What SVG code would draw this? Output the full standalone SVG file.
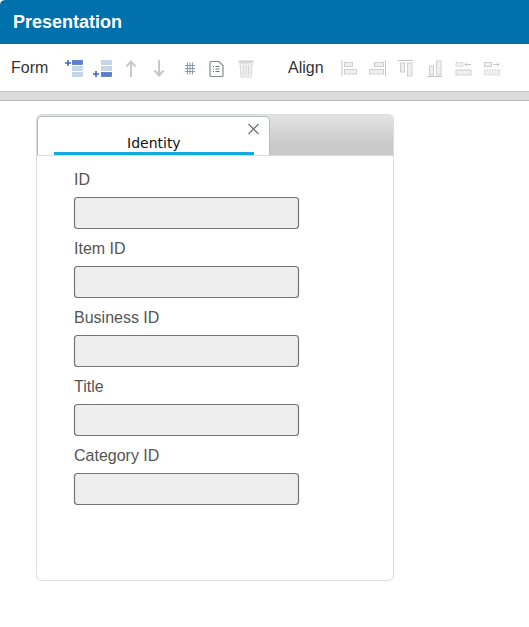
<svg xmlns="http://www.w3.org/2000/svg" width="529" height="627" viewBox="0 0 529 627">
<defs>
<linearGradient id="tabbar" x1="0" y1="0" x2="0" y2="1"><stop offset="0" stop-color="#e4e4e4"/><stop offset="0.75" stop-color="#c9c9c9"/><stop offset="1" stop-color="#c9c9c9"/></linearGradient>
</defs>
<style>
text{font-family:"Liberation Sans",Arial,sans-serif}
.lbl{font-size:16px;fill:#555}
.tb{font-size:16px;fill:#333}
.fld{fill:#eee;stroke:#757575;stroke-width:1.2}
.r1{fill:#5b7fd0;stroke:#3a5fc0;stroke-width:.6}
.r2{fill:#c6d6e8;stroke:#b0c6dc;stroke-width:.6}
.plus{stroke:#3a66c8;stroke-width:1.6;fill:none}
.arr{stroke:#c8c8c8;stroke-width:2;fill:none}
.al{fill:#efefef;stroke:#d0d0d0;stroke-width:1}
.aline{stroke:#c4c4c4;stroke-width:1;fill:none}
</style>
<rect width="529" height="627" fill="#fff"/>
<g id="header">
<path d="M0 44V5Q0 0 6 0H529V44Z" fill="#0071ad"/>
<text x="13" y="28" font-size="18" font-weight="700" fill="#fff">Presentation</text>
</g>
<g id="toolbar">
<text class="tb" x="11" y="73">Form</text>
<g id="icon-add-above">
<path class="plus" d="M65 63h6M68 60v6"/>
<rect class="r1" x="72.500" y="60.500" width="10" height="4"/>
<rect class="r2" x="72.500" y="66.500" width="10" height="4"/>
<rect class="r2" x="72.500" y="72.500" width="10" height="4"/>
</g>
<g id="icon-add-below">
<path class="plus" d="M93 74h6M96 71v6"/>
<rect class="r2" x="101.500" y="60.500" width="10" height="4"/>
<rect class="r2" x="101.500" y="66.500" width="10" height="4"/>
<rect class="r1" x="101.500" y="72.500" width="10" height="4"/>
</g>
<g id="icon-up"><path class="arr" d="M131 77V62M126.500 66.500L131 61.500L135.500 66.500"/></g>
<g id="icon-down"><path class="arr" d="M159 60V75M154.500 70.500L159 75.500L163.500 70.500"/></g>
<g id="icon-grid"><path d="M185 65.500h10M185 68.500h10M185 71.500h10M187.500 62.500v12M190 62.500v12M192.500 62.500v12" stroke="#8d9aa8" stroke-width="1" fill="none"/></g>
<g id="icon-doc">
<path d="M211 61.500h8l4 4v10q0 1-1 1h-11q-1 0-1-1v-13q0-1 1-1Z" fill="#fff" stroke="#85898f" stroke-width="1.200"/>
<path d="M213 66.500h1M213 69h1M213 71.500h1M215.500 66.500h4M215.500 69h4M215.500 71.500h4" stroke="#707780" stroke-width="1"/>
</g>
<g id="icon-trash">
<path d="M240 63h12l-1 14h-10Z" fill="#f0f0f0" stroke="#d8d8d8"/>
<path d="M238.500 61.500h15" stroke="#cfcfcf" stroke-width="2"/>
<path d="M243.500 65v10M246 65v10M248.500 65v10" stroke="#d8d8d8"/>
</g>
<text class="tb" x="288" y="73">Align</text>
<g id="icon-align-left"><path class="aline" d="M342 60.500V76.500"/><rect class="al" x="344.500" y="62.500" width="8" height="4"/><rect class="al" x="344.500" y="69.500" width="12" height="4.500"/></g>
<g id="icon-align-right"><path class="aline" d="M385.500 60.500V76.500"/><rect class="al" x="374.500" y="62.500" width="9" height="4"/><rect class="al" x="369.500" y="69.500" width="14" height="4.500"/></g>
<g id="icon-align-top"><path class="aline" d="M398 60.500H413"/><rect class="al" x="400.500" y="63" width="4" height="9"/><rect class="al" x="407.500" y="63" width="4.500" height="13"/></g>
<g id="icon-align-bottom"><path class="aline" d="M427 76.500H442"/><rect class="al" x="429.500" y="66" width="4" height="9"/><rect class="al" x="436.500" y="61" width="4.500" height="14"/></g>
<g id="icon-move-left"><rect class="al" x="456" y="62.500" width="7" height="4" stroke-dasharray="1.500 1"/><path class="aline" d="M465 64.500h6M467 62.500l-2 2 2 2"/><rect class="al" x="456" y="70" width="15" height="5"/></g>
<g id="icon-move-right"><rect class="al" x="484.500" y="62.500" width="7" height="4"/><path class="aline" d="M493 64.500h6M497 62.500l2 2-2 2"/><rect class="al" x="484.500" y="70" width="15" height="5" stroke-dasharray="1.500 1"/></g>
</g>
<g id="splitter">
<rect x="0" y="91" width="529" height="10" fill="#dcdcdc"/>
<path d="M0 91H529" stroke="#c4c4c4" stroke-width="1" transform="translate(0 .5)"/>
<path d="M0 100.500H529" stroke="#bdbdbd" stroke-width="1"/>
<rect x="0" y="101" width="529" height="526" fill="#fff"/>
</g>
<g id="panel">
<rect x="36.500" y="114.500" width="357" height="466" rx="5" fill="#fff" stroke="#dcdcdc"/>
<path d="M37 155V119Q37 115 41 115H389Q393 115 393 119V155Z" fill="url(#tabbar)"/>
<path d="M37 155.500H393" stroke="#d5dde0"/>
</g>
<g id="tab-identity">
<path d="M37.500 155V121Q37.500 116.500 42 116.500H265Q269.500 116.500 269.500 121V155" fill="#fff" stroke="#b4bcc0"/>
<rect x="54" y="152" width="200" height="3" fill="#12a8e0"/>
<text x="127" y="148" font-size="14" style="font-family:'DejaVu Sans',sans-serif" fill="#111">Identity</text>
<path d="M248.500 124L258.500 134M258.500 124L248.500 134" stroke="#777" stroke-width="1.300" fill="none"/>
</g>
<g id="field-id"><text class="lbl" x="74" y="185">ID</text><rect class="fld" x="74.500" y="197.500" width="224" height="31" rx="3"/></g>
<g id="field-item-id"><text class="lbl" x="74" y="254">Item ID</text><rect class="fld" x="74.500" y="266.500" width="224" height="31" rx="3"/></g>
<g id="field-business-id"><text class="lbl" x="74" y="323">Business ID</text><rect class="fld" x="74.500" y="335.500" width="224" height="31" rx="3"/></g>
<g id="field-title"><text class="lbl" x="74" y="392">Title</text><rect class="fld" x="74.500" y="404.500" width="224" height="31" rx="3"/></g>
<g id="field-category-id"><text class="lbl" x="74" y="461">Category ID</text><rect class="fld" x="74.500" y="473.500" width="224" height="31" rx="3"/></g>
<g id="connectors"/>
</svg>
